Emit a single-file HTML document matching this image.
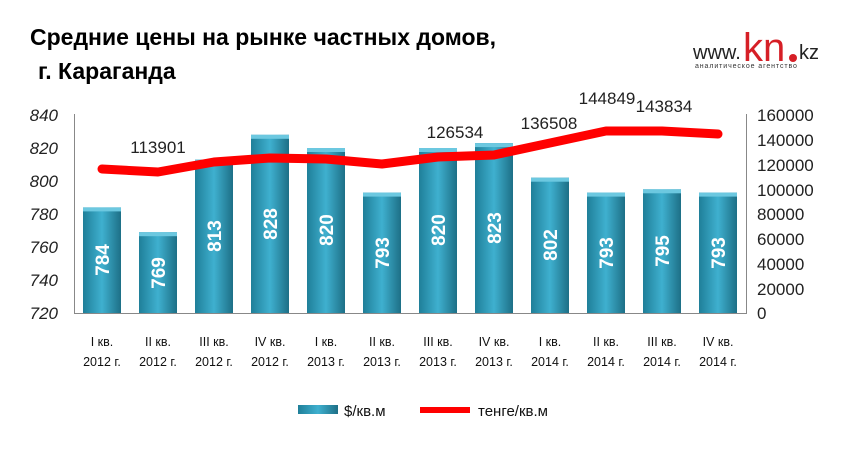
<!DOCTYPE html>
<html><head><meta charset="utf-8"><style>
body{margin:0;background:#fff;width:854px;height:446px;overflow:hidden;font-family:"Liberation Sans",sans-serif}
</style></head><body>
<svg width="854" height="446" xmlns="http://www.w3.org/2000/svg" font-family="Liberation Sans, sans-serif">
<defs>
<linearGradient id="g" x1="0" x2="1" y1="0" y2="0">
<stop offset="0" stop-color="#1f7f99"/><stop offset="0.5" stop-color="#3fb0cf"/><stop offset="1" stop-color="#1d6f86"/>
</linearGradient>
</defs>
<text x="30" y="45" font-size="23" font-weight="bold" fill="#000">Средние цены на рынке частных домов,</text>
<text x="38" y="79" font-size="23" font-weight="bold" fill="#000">г. Караганда</text>
<text x="693" y="59" font-size="20" fill="#222">www.</text>
<text x="743" y="61" font-size="40" fill="#d61f26">kn</text>
<circle cx="793" cy="58" r="4" fill="#d61f26"/>
<text x="799" y="59" font-size="20" fill="#222">kz</text>
<text x="695" y="68" font-size="7" fill="#333" letter-spacing="0.9">аналитическое агентство</text>
<g font-size="17" font-style="italic" fill="#222" text-anchor="end">
<text x="58" y="121">840</text><text x="58" y="154">820</text><text x="58" y="187">800</text><text x="58" y="220">780</text><text x="58" y="253">760</text><text x="58" y="286">740</text><text x="58" y="319">720</text>
</g>
<g font-size="17" fill="#222">
<text x="757" y="121">160000</text><text x="757" y="146">140000</text><text x="757" y="171">120000</text><text x="757" y="196">100000</text><text x="757" y="220">80000</text><text x="757" y="245">60000</text><text x="757" y="270">40000</text><text x="757" y="295">20000</text><text x="757" y="319">0</text>
</g>
<line x1="74.5" y1="114" x2="74.5" y2="313" stroke="#888"/>
<line x1="746.5" y1="114" x2="746.5" y2="313" stroke="#888"/>
<line x1="74" y1="313.5" x2="747" y2="313.5" stroke="#888"/>
<g fill="url(#g)">
<rect x="83" y="207.4" width="38" height="105.6"/>
<rect x="139" y="232.2" width="38" height="80.8"/>
<rect x="195" y="159.6" width="38" height="153.4"/>
<rect x="251" y="134.8" width="38" height="178.2"/>
<rect x="307" y="148" width="38" height="165"/>
<rect x="363" y="192.6" width="38" height="120.4"/>
<rect x="419" y="148" width="38" height="165"/>
<rect x="475" y="143.1" width="38" height="169.9"/>
<rect x="531" y="177.7" width="38" height="135.3"/>
<rect x="587" y="192.6" width="38" height="120.4"/>
<rect x="643" y="189.3" width="38" height="123.7"/>
<rect x="699" y="192.6" width="38" height="120.4"/>
</g>
<g fill="#6cc8e0">
<rect x="83" y="207.4" width="38" height="4"/>
<rect x="139" y="232.2" width="38" height="4"/>
<rect x="195" y="159.6" width="38" height="4"/>
<rect x="251" y="134.8" width="38" height="4"/>
<rect x="307" y="148" width="38" height="4"/>
<rect x="363" y="192.6" width="38" height="4"/>
<rect x="419" y="148" width="38" height="4"/>
<rect x="475" y="143.1" width="38" height="4"/>
<rect x="531" y="177.7" width="38" height="4"/>
<rect x="587" y="192.6" width="38" height="4"/>
<rect x="643" y="189.3" width="38" height="4"/>
<rect x="699" y="192.6" width="38" height="4"/>
</g>
<g font-size="19" font-weight="bold" fill="#fff" text-anchor="middle">
<text transform="translate(109,260) rotate(-90)">784</text>
<text transform="translate(165,273) rotate(-90)">769</text>
<text transform="translate(221,236) rotate(-90)">813</text>
<text transform="translate(277,224) rotate(-90)">828</text>
<text transform="translate(333,230) rotate(-90)">820</text>
<text transform="translate(389,253) rotate(-90)">793</text>
<text transform="translate(445,230) rotate(-90)">820</text>
<text transform="translate(501,228) rotate(-90)">823</text>
<text transform="translate(557,245) rotate(-90)">802</text>
<text transform="translate(613,253) rotate(-90)">793</text>
<text transform="translate(669,251) rotate(-90)">795</text>
<text transform="translate(725,253) rotate(-90)">793</text>
</g>
<polyline fill="none" stroke="#f00" stroke-width="9" stroke-linecap="round" stroke-linejoin="round"
points="102,169 158,172 214,162 270,158 326,159 382,164 438,157 494,155 550,143 606,131 662,131 718,134"/>
<g font-size="17" fill="#222" text-anchor="middle">
<text x="158" y="153">113901</text><text x="455" y="138">126534</text><text x="549" y="129">136508</text><text x="607" y="104">144849</text><text x="664" y="112">143834</text>
</g>
<g font-size="12.5" fill="#111" text-anchor="middle">
<text x="102" y="346">I кв.</text><text x="102" y="366">2012 г.</text>
<text x="158" y="346">II кв.</text><text x="158" y="366">2012 г.</text>
<text x="214" y="346">III кв.</text><text x="214" y="366">2012 г.</text>
<text x="270" y="346">IV кв.</text><text x="270" y="366">2012 г.</text>
<text x="326" y="346">I кв.</text><text x="326" y="366">2013 г.</text>
<text x="382" y="346">II кв.</text><text x="382" y="366">2013 г.</text>
<text x="438" y="346">III кв.</text><text x="438" y="366">2013 г.</text>
<text x="494" y="346">IV кв.</text><text x="494" y="366">2013 г.</text>
<text x="550" y="346">I кв.</text><text x="550" y="366">2014 г.</text>
<text x="606" y="346">II кв.</text><text x="606" y="366">2014 г.</text>
<text x="662" y="346">III кв.</text><text x="662" y="366">2014 г.</text>
<text x="718" y="346">IV кв.</text><text x="718" y="366">2014 г.</text>
</g>
<rect x="298" y="405" width="40" height="9" fill="url(#g)"/>
<text x="344" y="416" font-size="15" fill="#111">$/кв.м</text>
<line x1="420" y1="410" x2="470" y2="410" stroke="#f00" stroke-width="6"/>
<text x="478" y="416" font-size="15" fill="#111">тенге/кв.м</text>
</svg>
</body></html>
